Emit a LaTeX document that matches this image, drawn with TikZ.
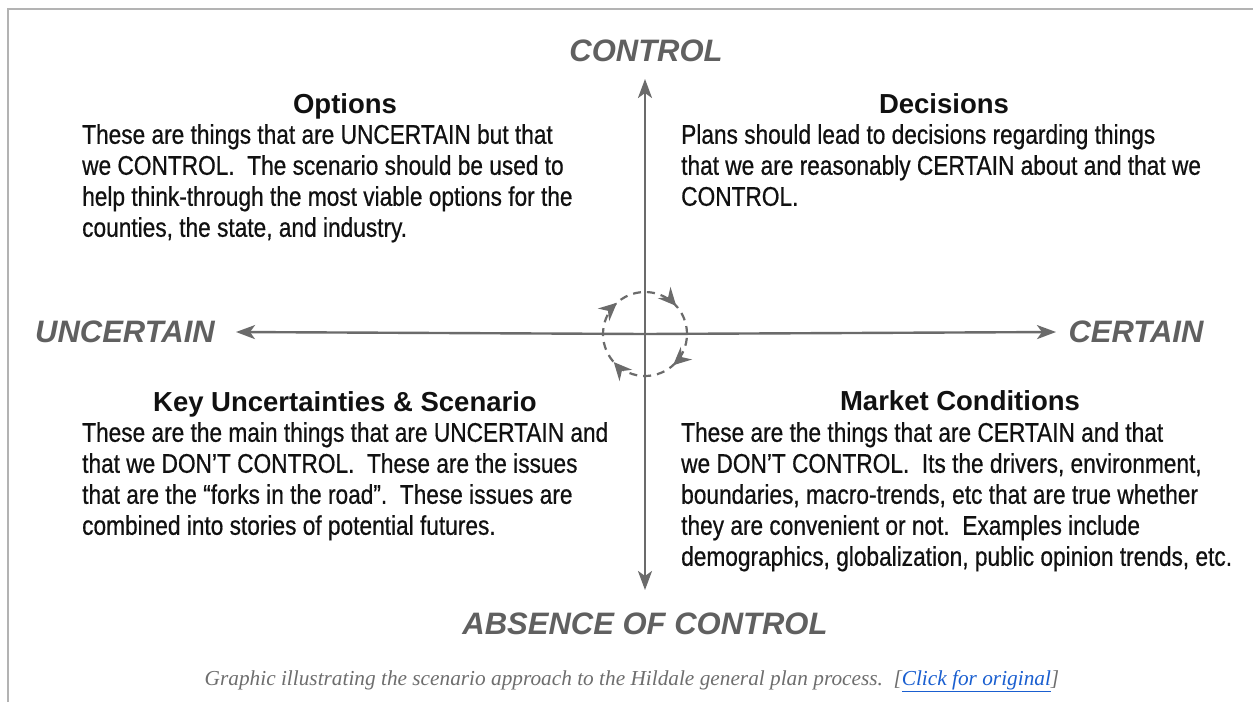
\documentclass[tikz,border=0pt]{standalone}
\usepackage{fontspec}
\setmainfont{Liberation Sans}
\newfontfamily\bodyfont[FakeStretch=0.84,FakeBold=0.6]{Liberation Sans}
\newfontfamily\headfont{Liberation Sans}
\newfontfamily\capfont{Liberation Serif}
\usetikzlibrary{arrows.meta}
\definecolor{axisgray}{HTML}{6B6B6B}
\definecolor{labelgray}{HTML}{606060}
\definecolor{bordergray}{HTML}{B3B3B3}
\definecolor{textblack}{HTML}{111111}
\definecolor{capgray}{HTML}{6E6E6E}
\definecolor{linkblue}{HTML}{1A5FD0}
\tikzset{
  axis/.style={draw=axisgray, line width=2.4pt, -{Stealth[length=19pt,width=14pt,inset=5pt]}},
  axislabel/.style={text=labelgray, font=\headfont\fontsize{31}{36}\selectfont\bfseries\itshape, inner sep=0pt, anchor=base},
  heading/.style={text=textblack, font=\headfont\fontsize{27.5}{31}\selectfont\bfseries, inner sep=0pt, anchor=base},
  body/.style={text=textblack, font=\bodyfont\fontsize{27}{31}\selectfont, align=left, inner sep=0pt, anchor=north west},
  loop/.style={draw=axisgray, line width=2.2pt, dash pattern=on 8pt off 6pt},
  loophead/.style={fill=axisgray}
}
\begin{document}
\begin{tikzpicture}[x=1pt,y=1pt]
\useasboundingbox (0,0) rectangle (1253,-702);
\fill[white] (0,0) rectangle (1253,-702);
% border
\draw[bordergray, line width=2pt] (8,-702) -- (8,-9) -- (1253,-9);
% center
\coordinate (c) at (645,-334);
\coordinate (top) at (645,-79);
\coordinate (bot) at (645,-590);
\coordinate (lft) at (236,-332);
\coordinate (rgt) at (1056,-332);
\draw[axis] (c) -- (top);
\draw[axis] (c) -- (bot);
\draw[axis] (c) -- (lft);
\draw[axis] (c) -- (rgt);
% dashed loop
\draw[loop] (c) circle[radius=42];
\foreach \a in {42,-48,-138,132}{
  \begin{scope}[shift={(c)}, rotate=\a, shift={(42,0)}, rotate=-90]
    \fill[loophead] (0,0) -- (-18,8.5) -- (-12,0) -- (-18,-8.5) -- cycle;
  \end{scope}
}
% axis labels
\node[axislabel] (lc) at (646,-61) {CONTROL};
\node[axislabel] (lu) at (125,-342) {UNCERTAIN};
\node[axislabel] (lr) at (1136,-342) {CERTAIN};
\node[axislabel] (la) at (645,-634) {ABSENCE OF CONTROL};
% quadrants
\node[heading] (h1) at (345,-113) {Options};
\node[body] (b1) at (82,-124) {These are things that are UNCERTAIN but that\\we CONTROL.\ \ The scenario should be used to\\help think-through the most viable options for the\\counties, the state, and industry.};
\node[heading] (h2) at (944,-113) {Decisions};
\node[body] (b2) at (681,-124) {Plans should lead to decisions regarding things\\that we are reasonably CERTAIN about and that we\\CONTROL.};
\node[heading] (h3) at (345,-411) {Key Uncertainties \& Scenario};
\node[body] (b3) at (82,-422) {These are the main things that are UNCERTAIN and\\that we DON’T CONTROL.\ \ These are the issues\\that are the “forks in the road”.\ \ These issues are\\combined into stories of potential futures.};
\node[heading] (h4) at (960,-410) {Market Conditions};
\node[body] (b4) at (681,-422) {These are the things that are CERTAIN and that\\we DON’T CONTROL.\ \ Its the drivers, environment,\\boundaries, macro-trends, etc that are true whether\\they are convenient or not.\ \ Examples include\\demographics, globalization, public opinion trends, etc.};
% caption
\node[text=capgray, font=\capfont\itshape\fontsize{21.3}{24}\selectfont, inner sep=0pt] (cap) at (632,-681) {Graphic illustrating the scenario approach to the Hildale general plan process.\ \ [\textcolor{linkblue}{\underline{Click for original}}]};
\end{tikzpicture}
\end{document}
